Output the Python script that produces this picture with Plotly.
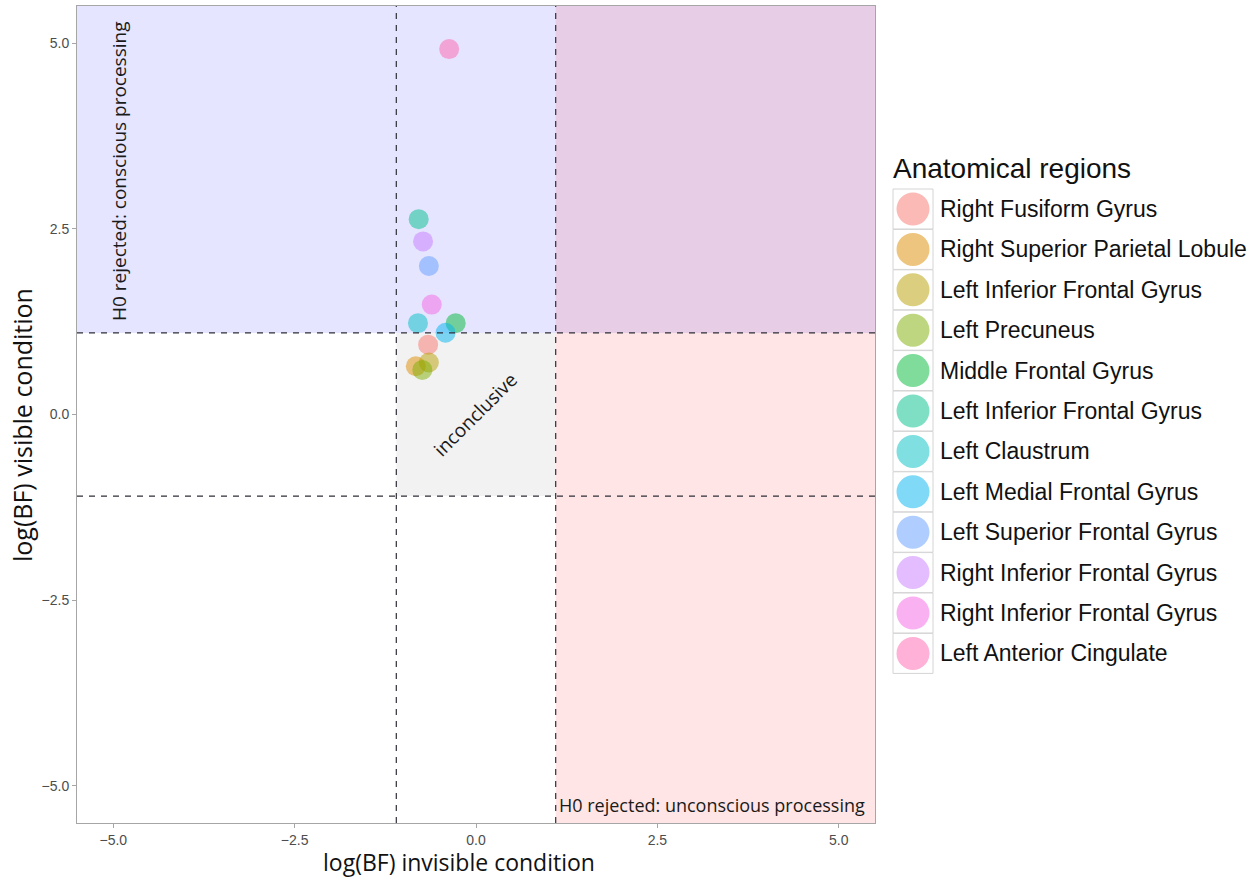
import math
import plotly.graph_objects as go

# Bayes-factor results per anatomical region
regions = [
    "Right Fusiform Gyrus",
    "Right Superior Parietal Lobule",
    "Left Inferior Frontal Gyrus",
    "Left Precuneus",
    "Middle Frontal Gyrus",
    "Left Inferior Frontal Gyrus",
    "Left Claustrum",
    "Left Medial Frontal Gyrus",
    "Left Superior Frontal Gyrus",
    "Right Inferior Frontal Gyrus",
    "Right Inferior Frontal Gyrus",
    "Left Anterior Cingulate",
]
log_bf_invisible = [-0.66, -0.83, -0.65, -0.74, -0.28, -0.79, -0.80, -0.42, -0.65, -0.73, -0.61, -0.37]
log_bf_visible = [0.94, 0.65, 0.70, 0.60, 1.23, 2.63, 1.23, 1.10, 2.00, 2.33, 1.48, 4.92]

# ggplot-style hue palette, 12 levels
palette = ["#F8766D", "#DE8C00", "#B79F00", "#7CAE00", "#00BA38", "#00C08B",
           "#00BFC4", "#00B4F0", "#619CFF", "#C77CFF", "#F564E3", "#FF64B0"]

x_ticks = [-5.0, -2.5, 0.0, 2.5, 5.0]
y_ticks = [-5.0, -2.5, 0.0, 2.5, 5.0]
axis_lim = 5.5
threshold = math.log(3)

W, H = 1260, 877
ML, MR, MT, MB = 77, 385, 6, 54
PW, PH = W - ML - MR, H - MT - MB


def px(xp):
    return (xp - ML) / PW


def py(yp):
    return (H - MB - yp) / PH


def rgba(hex_color, a):
    h = hex_color.lstrip("#")
    r, g, b = int(h[0:2], 16), int(h[2:4], 16), int(h[4:6], 16)
    return f"rgba({r},{g},{b},{a})"


fig = go.Figure()

# one trace per region so each keeps its own colour
for name, xv, yv, col in zip(regions, log_bf_invisible, log_bf_visible, palette):
    fig.add_trace(go.Scatter(
        x=[xv], y=[yv], mode="markers", name=name, showlegend=False,
        marker=dict(size=20, color=rgba(col, 0.5), line=dict(width=0)),
        hoverinfo="name+x+y",
    ))

shapes = []
# decision regions
shapes.append(dict(type="rect", xref="x", yref="y", x0=-axis_lim, x1=axis_lim,
                   y0=threshold, y1=axis_lim, fillcolor="rgba(0,0,255,0.1)",
                   line=dict(width=0), layer="below"))
shapes.append(dict(type="rect", xref="x", yref="y", x0=threshold, x1=axis_lim,
                   y0=-axis_lim, y1=axis_lim, fillcolor="rgba(255,0,0,0.1)",
                   line=dict(width=0), layer="below"))
shapes.append(dict(type="rect", xref="x", yref="y", x0=-threshold, x1=threshold,
                   y0=-threshold, y1=threshold, fillcolor="rgba(127,127,127,0.1)",
                   line=dict(width=0), layer="below"))
# thresholds at log(3)
dash_line = dict(color="#2e2e38", width=1.2, dash="6px,6px")
for t in (-threshold, threshold):
    shapes.append(dict(type="line", xref="x", yref="y", x0=t, x1=t,
                       y0=-axis_lim, y1=axis_lim, line=dash_line, layer="above"))
    shapes.append(dict(type="line", xref="x", yref="y", x0=-axis_lim, x1=axis_lim,
                       y0=t, y1=t, line=dash_line, layer="above"))

note_font = dict(family="Open Sans", size=19, color="#1a1a1a")
annotations = [
    dict(x=-4.93, y=3.27, xref="x", yref="y", text="H0 rejected: conscious processing",
         textangle=-90, showarrow=False, xanchor="center", yanchor="middle",
         font=note_font),
    dict(x=-0.02, y=0.0, xref="x", yref="y", text="inconclusive",
         textangle=-45, showarrow=False, xanchor="center", yanchor="middle",
         font=note_font),
    dict(x=3.25, y=-5.26, xref="x", yref="y", text="H0 rejected: unconscious processing",
         showarrow=False, xanchor="center", yanchor="middle",
         font=dict(note_font, size=18)),
    # axis titles
    dict(x=px(459), y=py(862), xref="paper", yref="paper",
         text="log(BF) invisible condition", showarrow=False,
         xanchor="center", yanchor="middle",
         font=dict(family="Open Sans", size=23, color="#111111")),
    dict(x=px(22), y=py(425), xref="paper", yref="paper",
         text="log(BF) visible condition", showarrow=False, textangle=-90,
         xanchor="center", yanchor="middle",
         font=dict(family="Open Sans", size=25, color="#111111")),
    # legend title
    dict(x=px(891), y=py(168), xref="paper", yref="paper",
         text="Anatomical regions", showarrow=False,
         xanchor="left", yanchor="middle",
         font=dict(family="Liberation Sans", size=28, color="#111111")),
]

# legend keys drawn as boxed circles
row0, row_h = 209.0, 40.4
for i, (name, col) in enumerate(zip(regions, palette)):
    yc = row0 + i * row_h
    shapes.append(dict(type="rect", xref="paper", yref="paper",
                       xsizemode="pixel", ysizemode="pixel",
                       xanchor=px(913), yanchor=py(yc),
                       x0=-20, x1=20, y0=-20, y1=20,
                       fillcolor="white", line=dict(color="#d4d4d4", width=1)))
    shapes.append(dict(type="circle", xref="paper", yref="paper",
                       xsizemode="pixel", ysizemode="pixel",
                       xanchor=px(913), yanchor=py(yc),
                       x0=-16.5, x1=16.5, y0=-16.5, y1=16.5,
                       fillcolor=rgba(col, 0.5), line=dict(width=0)))
    annotations.append(dict(x=px(938), y=py(yc), xref="paper", yref="paper",
                            text=name, showarrow=False, xanchor="left", yanchor="middle",
                            font=dict(family="Liberation Sans", size=23, color="#111111")))

axis_common = dict(
    range=[-axis_lim, axis_lim], showgrid=False, zeroline=False,
    showline=True, linecolor="#a6a6a6", linewidth=1, mirror=True,
    ticks="outside", ticklen=4, tickcolor="#a6a6a6", tickwidth=1,
    tickfont=dict(family="Liberation Sans", size=14, color="#4d4d4d"),
    tickformat=".1f",
)

fig.update_layout(
    width=W, height=H,
    margin=dict(l=ML, r=MR, t=MT, b=MB),
    paper_bgcolor="white", plot_bgcolor="white",
    xaxis=dict(axis_common, tickvals=x_ticks),
    yaxis=dict(axis_common, tickvals=y_ticks),
    shapes=shapes, annotations=annotations,
    showlegend=False,
)

fig.write_html("out.html")
